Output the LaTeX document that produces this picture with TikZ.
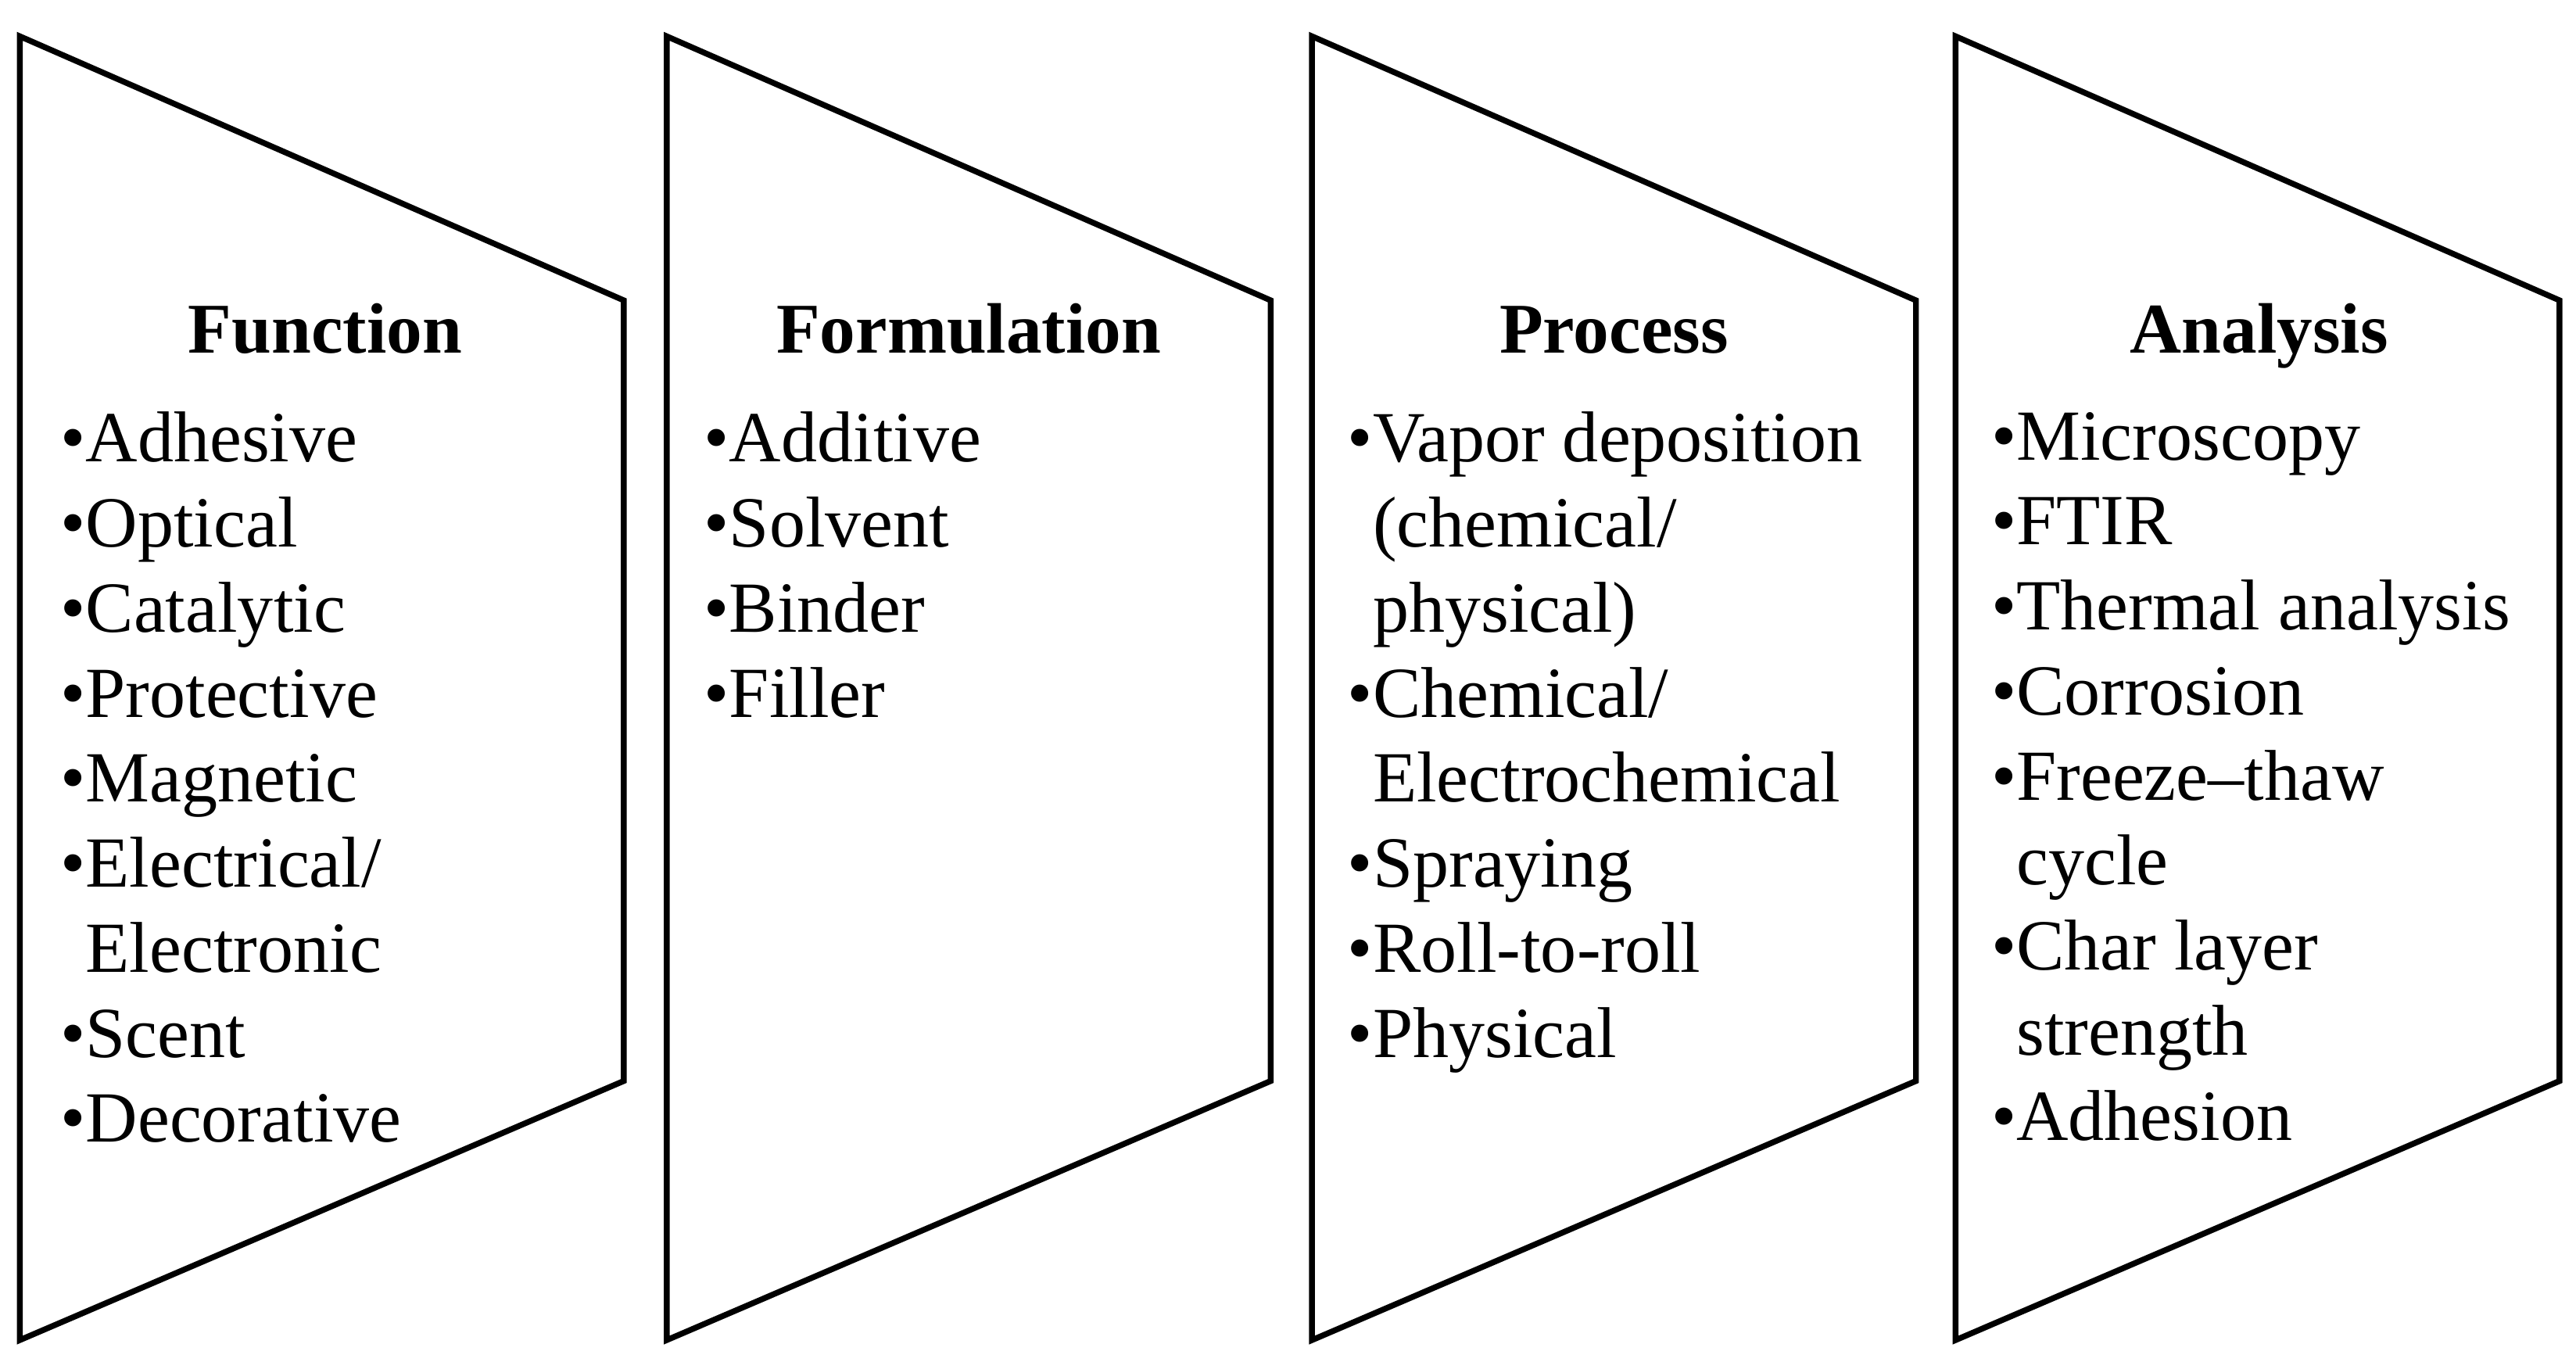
\documentclass[tikz,border=0pt]{standalone}
\usepackage{fontspec}
\setmainfont{Liberation Serif}
\tikzset{
  panel/.style={draw=black,line width=1pt,line join=miter},
  ttl/.style={font=\fontsize{12.3}{14.6}\selectfont\bfseries,anchor=base,inner sep=0},
  lst/.style={font=\fontsize{12.4}{14.65}\selectfont,align=left,anchor=north west,inner sep=0}
}
\newcommand{\bl}{\textbullet}
\newcommand{\ind}{\phantom{\textbullet}}
\begin{document}
\begin{tikzpicture}[x=0.01cm,y=-0.01cm]
\useasboundingbox (0,0) rectangle (1561,825);
\foreach \x/\n in {12/a,404/b,795/c,1185/d}{
  \draw[panel] (\x,22) coordinate (\n1) -- (\x+366,182) coordinate (\n2) -- (\x+366,655) coordinate (\n3) -- (\x,812) coordinate (\n4) -- cycle;
}
\node[ttl] (t1) at (197,214) {Function};
\node[ttl] (t2) at (587,214) {Formulation};
\node[ttl] (t3) at (978,214) {Process};
\node[ttl] (t4) at (1369,214) {Analysis};
\node[lst] (l1) at (36,249) {\bl Adhesive\\\bl Optical\\\bl Catalytic\\\bl Protective\\\bl Magnetic\\\bl Electrical/\\\ind Electronic\\\bl Scent\\\bl Decorative};
\node[lst] (l2) at (426,249) {\bl Additive\\\bl Solvent\\\bl Binder\\\bl Filler};
\node[lst] (l3) at (816,249) {\bl Vapor deposition\\\ind (chemical/\\\ind physical)\\\bl Chemical/\\\ind Electrochemical\\\bl Spraying\\\bl Roll-to-roll\\\bl Physical};
\node[lst] (l4) at (1206,249) {\bl Microscopy\\\bl FTIR\\\bl Thermal analysis\\\bl Corrosion\\\bl Freeze--thaw\\\ind cycle\\\bl Char layer\\\ind strength\\\bl Adhesion};
\end{tikzpicture}
\end{document}
